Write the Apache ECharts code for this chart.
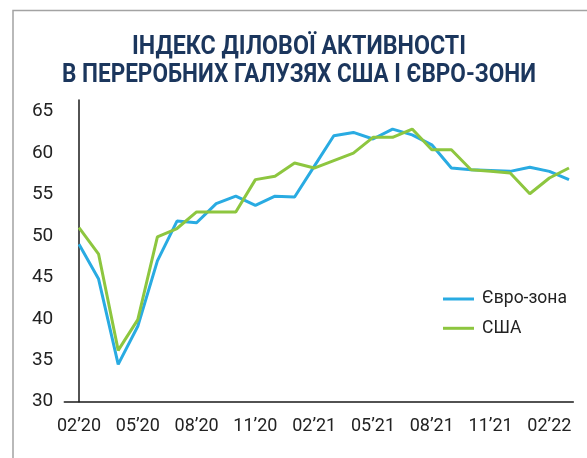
<!DOCTYPE html>
<html>
<head>
<meta charset="utf-8">
<script src="https://cdn.jsdelivr.net/npm/echarts@6/dist/echarts.min.js"></script>
<style>
html,body{margin:0;padding:0;background:#fff;}
#chart{width:587px;height:458px;}
</style>
</head>
<body>
<div id="chart"></div>
<script>
const months = ["02.20","03.20","04.20","05.20","06.20","07.20","08.20","09.20","10.20","11.20","12.20",
  "01.21","02.21","03.21","04.21","05.21","06.21","07.21","08.21","09.21","10.21","11.21","12.21",
  "01.22","02.22","03.22"];
const euroZone = [49.0,44.8,34.5,39.1,47.0,51.8,51.6,53.9,54.8,53.7,54.8,
  54.7,58.4,62.1,62.5,61.7,62.9,62.2,61.0,58.2,58.0,57.9,57.8,
  58.3,57.8,56.8];
const usa = [51.0,47.8,36.2,39.9,49.9,50.9,52.9,52.9,52.9,56.8,57.2,
  58.8,58.2,59.1,60.0,61.9,61.9,62.9,60.4,60.4,58.0,57.8,57.6,
  55.1,57.0,58.2];
const tickIndex = [0,3,6,9,12,15,18,21,24];
const tickLabels = ["02’20","05’20","08’20","11’20","02’21","05’21","08’21","11’21","02’22"];
const yTicks = [30,35,40,45,50,55,60,65];
const seriesNames = ["Євро-зона","США"];
const titleLines = ["ІНДЕКС ДІЛОВОЇ АКТИВНОСТІ","В ПЕРЕРОБНИХ ГАЛУЗЯХ США І ЄВРО-ЗОНИ"];

const labelFont = "Roboto, 'Liberation Sans', sans-serif";
const titleFont = "bold 26px Roboto, 'Liberation Sans', sans-serif";
const titleWidths = [334, 474];
const titleY = [47.5, 75.5];
const mctx = document.createElement('canvas').getContext('2d');
mctx.font = titleFont;
const titleGraphics = titleLines.map((t,i)=>{
  const w = mctx.measureText(t).width;
  return {type:'text', x:299, y:titleY[i], scaleX: titleWidths[i]/w, silent:true,
    style:{text:t, x:0, y:0, align:'center', verticalAlign:'middle', font:titleFont, fill:'#1b365d'}};
});

const chart = echarts.init(document.getElementById('chart'), null, {renderer:'canvas'});
const toPairs = arr => arr.map((v,i)=>[i,v]);
chart.setOption({
  animation:false,
  graphic:[{
    type:'rect', silent:true, z:-1,
    shape:{x:13, y:10.5, width:700, height:600},
    style:{fill:'none', stroke:'#a3a3a3', lineWidth:1.5}
  }].concat(titleGraphics),
  grid:{left:64.3, right:13.7, top:100, bottom:56.3, containLabel:false},
  legend:{
    orient:'vertical', left:438, top:285,
    itemWidth:31, itemHeight:3, itemGap:11.3,
    icon:'rect',
    data:[{name:seriesNames[0], itemStyle:{color:'#29abe2'}},{name:seriesNames[1], itemStyle:{color:'#8dc63f'}}],
    textStyle:{fontFamily:labelFont, fontSize:17.5, lineHeight:18, color:'#222', padding:[0,0,0,3]}
  },
  xAxis:{
    type:'value', min:-0.75, max:25.22,
    splitLine:{show:false},
    axisLine:{show:true, onZero:false, lineStyle:{color:'#1a1a1a', width:1.5}},
    axisTick:{show:false},
    axisLabel:{
      customValues:tickIndex,
      formatter:v=>{const k=tickIndex.indexOf(Math.round(v)); return k>=0?tickLabels[k]:'';},
      margin:16, fontFamily:labelFont, fontSize:18, color:'#222'
    }
  },
  yAxis:{
    type:'value', min:30, max:66.41,
    splitLine:{show:false},
    axisLine:{show:true, lineStyle:{color:'#1a1a1a', width:1.5}},
    axisTick:{show:false},
    axisLabel:{customValues:yTicks, margin:11, fontFamily:labelFont, fontSize:19, color:'#222'}
  },
  series:[
    {name:seriesNames[0], type:'line', data:toPairs(euroZone), symbol:'none',
      lineStyle:{color:'#29abe2', width:3}, itemStyle:{color:'#29abe2'}, z:2},
    {name:seriesNames[1], type:'line', data:toPairs(usa), symbol:'none',
      lineStyle:{color:'#8dc63f', width:3}, itemStyle:{color:'#8dc63f'}, z:3}
  ]
});
</script>
</body>
</html>
